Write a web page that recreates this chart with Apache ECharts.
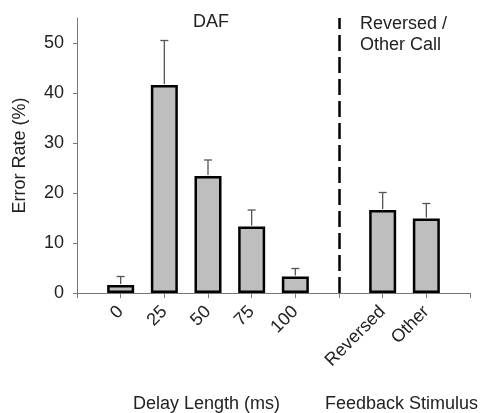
<!DOCTYPE html>
<html>
<head>
<meta charset="utf-8">
<script src="https://cdn.jsdelivr.net/npm/echarts@6/dist/echarts.min.js"></script>
<style>
html,body{margin:0;padding:0;background:#fff;}
#chart{width:488px;height:413px;}
</style>
</head>
<body>
<div id="chart"></div>
<script>
// Category slots (gap slots are spacers for layout)
const categories = ['gapL', '0', '25', '50', '75', '100', 'gapM', 'Reversed', 'Other', 'gapR'];
const tickLabels = ['', '0', '25', '50', '75', '100', '', 'Reversed', 'Other', ''];
const errorRate = [null, 1.6, 41.6, 23.4, 13.3, 3.3, null, 16.6, 14.9, null];
const errorTop  = [null, 3.3, 50.5, 26.6, 16.6, 4.9, null, 20.1, 17.9, null];
const yTicks = [0, 10, 20, 30, 40, 50];
const dividerCategory = 'gapM';

const FONT = 'Liberation Sans, Arial, sans-serif';
const chart = echarts.init(document.getElementById('chart'));

const errData = categories.map((c, i) => errorRate[i] == null ? null : [i, errorRate[i], errorTop[i]]).filter(d => d);

chart.setOption({
  animation: false,
  backgroundColor: '#fff',
  grid: { left: 77, right: 18, top: 18, bottom: 120 },
  xAxis: {
    type: 'category',
    data: categories,
    boundaryGap: false,
    axisLine: { lineStyle: { color: '#777', width: 1 } },
    axisTick: { show: true, interval: 0, length: 5, lineStyle: { color: '#777' } },
    axisLabel: {
      interval: 0, rotate: 45, margin: 16,
      fontFamily: FONT, fontSize: 18, color: '#222',
      formatter: (v) => tickLabels[categories.indexOf(v)]
    }
  },
  yAxis: {
    type: 'value',
    min: 0, max: 55, interval: 10,
    name: 'Error Rate (%)',
    nameLocation: 'middle', nameGap: 48,
    nameTextStyle: { fontFamily: FONT, fontSize: 18, color: '#222' },
    splitLine: { show: false },
    axisLine: { show: true, lineStyle: { color: '#777', width: 1 } },
    axisTick: { show: true, length: 4, customValues: yTicks, lineStyle: { color: '#777' } },
    axisLabel: { customValues: yTicks, margin: 13, fontFamily: FONT, fontSize: 18, color: '#222' }
  },
  series: [
    {
      type: 'bar',
      data: errorRate,
      barWidth: 27,
      itemStyle: { color: '#bebebe', borderColor: '#000', borderWidth: 2.5 },
      markLine: {
        silent: true,
        symbol: 'none',
        label: { show: false },
        lineStyle: { color: '#000', type: [16, 6], width: 2.5 },
        data: [{ xAxis: dividerCategory }]
      }
    },
    {
      type: 'custom',
      data: errData,
      renderItem: function (params, api) {
        const x = api.value(0);
        const base = api.coord([x, api.value(1)]);
        const top = api.coord([x, api.value(2)]);
        const half = 4;
        return {
          type: 'group',
          children: [
            { type: 'line', shape: { x1: base[0], y1: base[1] - 1, x2: top[0], y2: top[1] }, style: { stroke: '#555', lineWidth: 1.3 } },
            { type: 'line', shape: { x1: top[0] - half, y1: top[1], x2: top[0] + half, y2: top[1] }, style: { stroke: '#555', lineWidth: 1.3 } }
          ]
        };
      },
      z: 3
    }
  ],
  graphic: [
    { type: 'text', left: 193, top: 13, style: { text: 'DAF', font: '18px ' + FONT, fill: '#222' } },
    { type: 'text', left: 360, top: 14, style: { text: 'Reversed /\nOther Call', font: '18px ' + FONT, fill: '#222', lineHeight: 21 } },
    { type: 'text', left: 133, top: 395, style: { text: 'Delay Length (ms)', font: '18px ' + FONT, fill: '#222' } },
    { type: 'text', left: 325, top: 395, style: { text: 'Feedback Stimulus', font: '18px ' + FONT, fill: '#222' } }
  ]
});
</script>
</body>
</html>
